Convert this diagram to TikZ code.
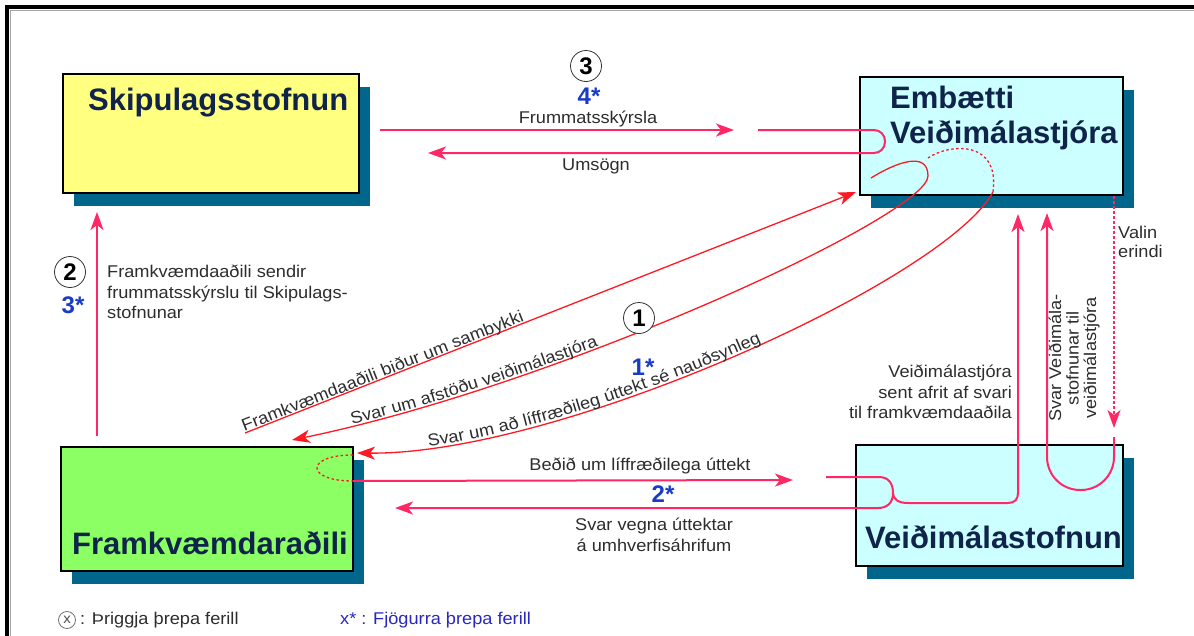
\documentclass[tikz,border=0pt]{standalone}
\usepackage{fontspec}
\setmainfont{Liberation Sans}
\newfontfamily\lbl{Liberation Sans}[FakeStretch=1.07]
\usetikzlibrary{arrows.meta,shadows,decorations.text}
\definecolor{pk}{RGB}{255,40,100}
\definecolor{rd}{RGB}{255,25,35}
\definecolor{navy}{RGB}{15,35,75}
\definecolor{shc}{RGB}{0,102,140}
\definecolor{yel}{RGB}{255,255,128}
\definecolor{cyn}{RGB}{204,255,255}
\definecolor{grn}{RGB}{140,255,100}
\definecolor{blu}{RGB}{25,60,200}
\definecolor{blu2}{RGB}{40,40,190}
\definecolor{txt}{RGB}{45,45,45}
\begin{document}
\begin{tikzpicture}[x=1pt,y=-1pt,
  box/.style={draw=black, line width=1.5pt, anchor=north west, inner sep=0pt,
    drop shadow={shadow xshift=11pt, shadow yshift=-13pt, fill=shc, opacity=1}},
  ttl/.style={font=\bfseries\fontsize{31}{35}\selectfont, text=navy, inner sep=0pt, anchor=base west},
  lab/.style={font=\lbl\fontsize{17}{20.5}\selectfont, text=txt, inner sep=0pt},
  num/.style={circle, draw=black!80, line width=0.8pt, minimum size=31pt, inner sep=0pt, font=\bfseries\fontsize{24}{24}\selectfont},
  star/.style={font=\bfseries\fontsize{24}{24}\selectfont, text=blu, inner sep=0pt},
  pkline/.style={draw=pk, line width=2pt},
  rdline/.style={draw=rd, line width=1.3pt},
  dotline/.style={dash pattern=on 2.5pt off 2.5pt},
  tip/.style={-{Stealth[length=18pt,width=13pt,inset=5pt]}},
  alongtext/.style={decorate, decoration={text along path, text color=txt,
    raise=1.5pt, text={|\lbl\fontsize{17}{20}\selectfont|#1}}}
]
\useasboundingbox (0,0) rectangle (1194,635);
\fill[white] (0,0) rectangle (1194,635);
\draw[black!35, line width=1pt] (10.5,640) -- (10.5,10.5) -- (1200,10.5);
\draw[line width=4pt] (7,640) -- (7,7) -- (1200,7);

% boxes
\node[box, fill=yel, minimum width=296pt, minimum height=119pt] (sk) at (62,73) {};
\node[box, fill=cyn, minimum width=263pt, minimum height=118pt] (em) at (859,76) {};
\node[box, fill=grn, minimum width=292pt, minimum height=124pt] (fr) at (60,446) {};
\node[box, fill=cyn, minimum width=267pt, minimum height=121pt] (ve) at (855,444) {};

\node[ttl] (skT) at (88,110) {Skipulagsstofnun};
\node[ttl] (emT1) at (890,108) {Embætti};
\node[ttl] (emT2) at (890,143) {Veiðimálastjóra};
\node[ttl] (frT) at (72,554) {Framkvæmdaraðili};
\node[ttl] (veT) at (865,548) {Veiðimálastofnun};

% coordinates
\coordinate (t1s) at (380,130); \coordinate (t1e) at (734,130);
\coordinate (t2s) at (758,130); \coordinate (t2c) at (885,130);
\coordinate (t2d) at (885,153); \coordinate (t2e) at (428,153);
\coordinate (v1s) at (97,436); \coordinate (v1e) at (97,212);
\coordinate (c3s) at (245,433); \coordinate (c3e) at (856,192);
\coordinate (c4a) at (871,178); \coordinate (c4b) at (928,176); \coordinate (c4e) at (292,440);
\coordinate (c5a) at (928,158); \coordinate (c5b) at (993,192); \coordinate (c5e) at (357,453);
\coordinate (gl1) at (353,455); \coordinate (gl2) at (353,481);
\coordinate (b1e) at (793,480);
\coordinate (b2s) at (826,477); \coordinate (b2c) at (879,477);
\coordinate (j) at (893,493);
\coordinate (b3c) at (878,508); \coordinate (b3e) at (395,508);
\coordinate (b4c) at (908,503); \coordinate (b4d) at (1008,503);
\coordinate (b4f) at (1018,493); \coordinate (b4e) at (1018,214);
\coordinate (d1s) at (1114,196); \coordinate (d1e) at (1114,428);
\coordinate (u1) at (1114,437); \coordinate (u2) at (1114,490);
\coordinate (u3) at (1047,490); \coordinate (u4) at (1047,213);

% top arrows
\draw[pkline, tip] (t1s) -- (t1e);
\draw[pkline, tip, rounded corners=11pt] (t2s) -- (t2c) -- (t2d) -- (t2e);
\node[num] (n3) at (586,66) {3};
\node[star] (s4) at (589,96) {4*};
\node[lab] (l1) at (588,119) {Frummatsskýrsla};
\node[lab] (l2) at (596,166) {Umsögn};

% left vertical
\draw[pkline, tip] (v1s) -- (v1e);
\node[num] (n2) at (70,272) {2};
\node[star] (s3) at (73,305) {3*};
\node[lab, align=left, anchor=north west] (l3) at (107,265)
  {Framkvæmdaaðili sendir\\frummatsskýrslu til Skipulags-\\stofnunar};

% diagonal curves
\draw[rdline, tip] (c3s) -- (c3e);
\path[alongtext={Framkvæmdaaðili biður um sambykki}] (c3s) -- (c3e);

\draw[rdline, tip] (c4a) .. controls (895,163) and (928,150) .. (c4b)
  .. controls (928,215) and (560,385) .. (c4e);
\path[alongtext={Svar um afstöðu veiðimálastjóra},
  decoration={text align={left indent=62pt}}]
  (c4e) .. controls (560,385) and (928,215) .. (c4b);
\node[num, fill=white] (n1) at (639,318) {1};
\node[star] (s1) at (643,367) {1*};

\draw[rdline, dotline] (c5a) .. controls (950,143) and (1000,140) .. (c5b);
\draw[rdline, tip] (c5b) .. controls (945,280) and (560,455) .. (c5e);
\path[alongtext={Svar um að líffræðileg úttekt sé nauðsynleg},
  decoration={text align={left indent=72pt}}]
  (c5e) .. controls (560,455) and (945,280) .. (c5b);
\draw[rdline, dotline] (gl1) .. controls (305,455) and (305,481) .. (gl2);

% bottom arrows
\draw[pkline, tip] (gl2) -- (b1e);
\draw[pkline] (b2s) -- (b2c) .. controls (889,477) and (893,484) .. (j);
\draw[pkline, tip] (j) .. controls (893,503) and (887,508) .. (b3c) -- (b3e);
\draw[pkline, tip] (j) .. controls (893,499) and (898,503) .. (b4c) -- (b4d)
  .. controls (1015,503) and (1018,499) .. (b4f) -- (b4e);
\node[lab] (l4) at (640,466) {Beðið um líffræðilega úttekt};
\node[star] (s2) at (663,494) {2*};
\node[lab, align=center] (l5) at (654,535) {Svar vegna úttektar\\á umhverfisáhrifum};

% right side
\draw[draw=pk, line width=1.3pt, dotline, tip] (d1s) -- (d1e);
\draw[pkline, tip, rounded corners=33pt] (u1) -- (u2) -- (u3) -- (u4);
\node[lab, align=left, anchor=north west, font=\lbl\fontsize{17}{18.5}\selectfont] (l6) at (1118,226) {Valin\\erindi};
\node[lab, align=right, anchor=north east] (l7) at (1012,365)
  {Veiðimálastjóra\\sent afrit af svari\\til framkvæmdaaðila};
\node[lab, align=center, rotate=90, font=\lbl\fontsize{17}{17.5}\selectfont] (l8) at (1074,358)
  {Svar Veiðimála-\\stofnunar til\\veiðimálastjóra};

% legend
\node[circle, draw=black!55, line width=0.8pt, minimum size=17pt, inner sep=0pt,
  font=\lbl\fontsize{14}{14}\selectfont, text=black!70] (lx) at (67,620) {x};
\node[lab, anchor=west] (lg1) at (80,620) {: Þriggja þrepa ferill};
\node[lab, anchor=west, text=blu2] (lg2) at (340,620) {x* : Fjögurra þrepa ferill};
\end{tikzpicture}
\end{document}
